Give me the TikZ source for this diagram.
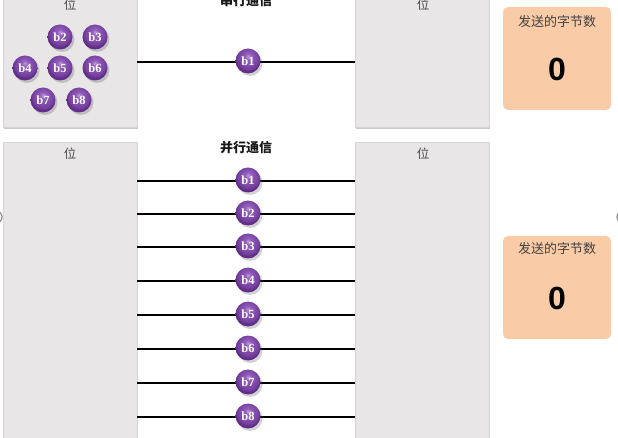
\documentclass[tikz,border=0pt]{standalone}
\usepackage{fontspec}
\newfontfamily\cjk{Noto Sans CJK SC}
\newfontfamily\numfont{Liberation Sans}
\newfontfamily\bitfont{Liberation Serif}
\usetikzlibrary{shadows}
\definecolor{panelgray}{RGB}{232,230,231}
\definecolor{panelline}{RGB}{214,212,213}
\definecolor{orangebox}{RGB}{249,204,167}
\definecolor{ballhi}{RGB}{186,150,214}
\definecolor{ballmid}{RGB}{146,92,186}
\definecolor{balllow}{RGB}{118,64,160}
\definecolor{balledge}{RGB}{96,46,134}
\pgfdeclareradialshading{purpleball}{\pgfqpoint{0bp}{10bp}}{%
  color(0bp)=(ballhi); color(7bp)=(ballmid); color(21bp)=(balllow);
  color(25bp)=(balledge); color(50bp)=(balledge)}
\tikzset{
  x=1pt,y=-1pt,
  panel/.style={draw=panelline, fill=panelgray, line width=0.6pt},
  shadowpanel/.style={panel, drop shadow={shadow xshift=1pt, shadow yshift=-2.5pt, opacity=0.35, fill=black!60}},
  counter/.style={fill=orangebox, rounded corners=5pt},
  wire/.style={line width=2.2pt, black},
  bit/.style={circle, minimum size=25pt, inner sep=0pt, shading=purpleball, text=white,
    font=\bitfont\bfseries\fontsize{12.5}{12.5}\selectfont,
    drop shadow={shadow xshift=2pt, shadow yshift=-2.5pt, opacity=0.25, fill=black!70}},
  poslabel/.style={font=\cjk\fontsize{12.5}{13}\selectfont, text=black!70},
  titlelabel/.style={font=\cjk\bfseries\fontsize{13}{14}\selectfont, text=black!90},
  cntlabel/.style={font=\cjk\fontsize{13}{14}\selectfont, text=black!75},
  cntnum/.style={font=\numfont\bfseries\fontsize{32}{32}\selectfont, text=black},
  edgering/.style={draw=black!45, line width=1.2pt}
}
\begin{document}
\begin{tikzpicture}
\useasboundingbox (0,0) rectangle (618,438);
\clip (0,0) rectangle (618,438);
% ---------- top (serial) ----------
\path[shadowpanel] (3,-10) rectangle (137,127);
\path[shadowpanel] (355,-10) rectangle (489,127);
\node[poslabel] (tpl) at (70,5) {位};
\node[poslabel] (tpr) at (423,5) {位};
\node[titlelabel] (ttitle) at (246,1) {串行通信};
\coordinate (sL) at (137,62);
\coordinate (sR) at (355,62);
\draw[wire] (sL) -- (sR);
\node[bit] (s1) at (248,61) {b1};
\node[bit] (s2) at (60,37) {b2};
\node[bit] (s3) at (95,37) {b3};
\node[bit] (s4) at (25,68) {b4};
\node[bit] (s5) at (60,68) {b5};
\node[bit] (s6) at (95,68) {b6};
\node[bit] (s7) at (43,100) {b7};
\node[bit] (s8) at (79,100) {b8};
\path[counter] (503,7) rectangle (611,110);
\node[cntlabel] (c1t) at (557,22) {发送的字节数};
\node[cntnum] (c1n) at (557,69) {0};
% ---------- bottom (parallel) ----------
\path[panel] (3,142) rectangle (137,450);
\path[panel] (355,142) rectangle (489,450);
\node[poslabel] (bpl) at (70,154) {位};
\node[poslabel] (bpr) at (423,154) {位};
\node[titlelabel] (btitle) at (246,148) {并行通信};
\foreach \i/\y in {1/181,2/214,3/247,4/281,5/315,6/349,7/383,8/417}{
  \coordinate (pL\i) at (137,\y);
  \coordinate (pR\i) at (355,\y);
  \draw[wire] (pL\i) -- (pR\i);
  \node[bit] (p\i) at (248,\y-1) {b\i};
}
\path[counter] (503,236) rectangle (611,339);
\node[cntlabel] (c2t) at (557,249) {发送的字节数};
\node[cntnum] (c2n) at (557,298) {0};
% edge fragments
\draw[edgering] (-4,217) circle (6);
\draw[edgering] (623,217) circle (6);
\end{tikzpicture}
\end{document}
